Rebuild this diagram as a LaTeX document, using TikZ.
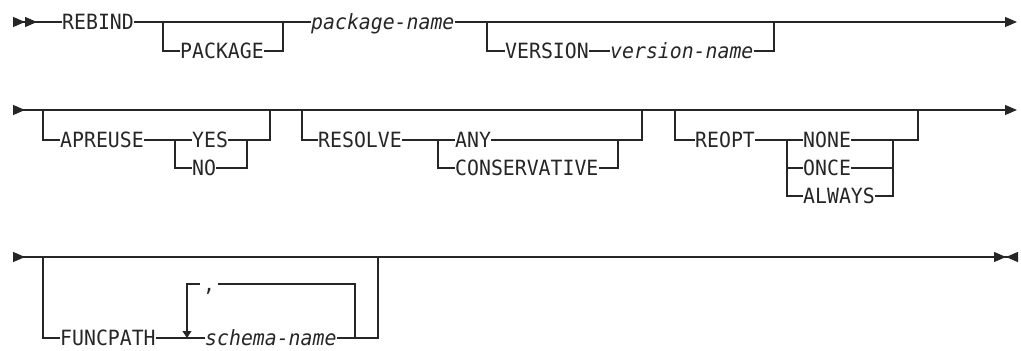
\documentclass[tikz,border=0pt]{standalone}
\usepackage{fontspec}
\setmainfont{DejaVu Sans Mono}[FakeStretch=0.944]
\usetikzlibrary{positioning, arrows.meta, calc}

\tikzset{
    railtip/.tip={Triangle[length=12pt, width=10pt]},
    railback/.tip={Triangle[length=12pt, width=10pt, reversed]},
}

\begin{document}
\begin{tikzpicture}[
    x=1pt, y=-1pt,
    kw/.style={anchor=west, inner sep=0pt, text height=15.3pt, text depth=0pt, font=\fontsize{21}{22}\selectfont, text=black!85},
    var/.style={kw, font=\fontsize{21}{22}\selectfont\itshape},
    rail/.style={line width=1.2pt, draw=black!85},
]
\useasboundingbox (0,0) rectangle (1021,351);

% Row 1: REBIND PACKAGE package-name VERSION
\coordinate (s1) at (13,22);
\node[kw] (rebind) at (62,22) {REBIND};
\coordinate (b1) at (163,22);
\coordinate (j1) at (283,22);
\node[kw] (package) at (180,51) {PACKAGE};
\node[var] (pkgname) at (311,22) {package-name};
\coordinate (b2) at (487,22);
\coordinate (j2) at (774,22);
\node[kw] (version) at (505,51) {VERSION};
\node[var] (vername) at (610,51) {version-name};
\coordinate (e1) at (1017,22);

\draw[rail, {railback[] railback[]}-] (s1) -- (rebind.west);
\draw[rail] (rebind.east) -- (pkgname.west);
\draw[rail] (b1) |- (package.west);
\draw[rail] (package.east) -| (j1);
\draw[rail, -{railtip[]}] (pkgname.east) -- (e1);
\draw[rail] (b2) |- (version.west);
\draw[rail] (version.east) -- (vername.west);
\draw[rail] (vername.east) -| (j2);

% Row 2: APREUSE, RESOLVE, REOPT
\coordinate (s2) at (13,110);
\coordinate (e2) at (1017,110);
\coordinate (b3) at (43,110);
\coordinate (j3) at (270,110);
\node[kw] (apreuse) at (60,140) {APREUSE};
\coordinate (c3) at (175,140);
\coordinate (k3) at (247,140);
\node[kw] (yes) at (192,140) {YES};
\node[kw] (no) at (192,168) {NO};

\coordinate (b4) at (302,110);
\coordinate (j4) at (642,110);
\node[kw] (resolve) at (318,140) {RESOLVE};
\coordinate (c4) at (438,140);
\coordinate (k4) at (618,140);
\node[kw] (any) at (455,140) {ANY};
\node[kw] (conserv) at (455,168) {CONSERVATIVE};

\coordinate (b5) at (675,110);
\coordinate (j5) at (918,110);
\node[kw] (reopt) at (695,140) {REOPT};
\coordinate (c5) at (787,140);
\coordinate (k5) at (893,140);
\node[kw] (none) at (803,140) {NONE};
\node[kw] (once) at (803,168) {ONCE};
\node[kw] (always) at (803,196) {ALWAYS};

\draw[rail, {railback[]}-{railtip[]}] (s2) -- (e2);
% apreuse
\draw[rail] (b3) |- (apreuse.west);
\draw[rail] (apreuse.east) -- (yes.west);
\draw[rail] (c3) |- (no.west);
\draw[rail] (yes.east) -- (k3) -| (j3);
\draw[rail] (no.east) -| (k3);
% resolve
\draw[rail] (b4) |- (resolve.west);
\draw[rail] (resolve.east) -- (any.west);
\draw[rail] (c4) |- (conserv.west);
\draw[rail] (any.east) -- (k4) -| (j4);
\draw[rail] (conserv.east) -| (k4);
% reopt
\draw[rail] (b5) |- (reopt.west);
\draw[rail] (reopt.east) -- (none.west);
\draw[rail] (c5) |- (always.west);
\draw[rail] (c5 |- once) -- (once.west);
\draw[rail] (none.east) -- (k5) -| (j5);
\draw[rail] (once.east) -- (once -| k5);
\draw[rail] (always.east) -| (k5);

% Row 3: FUNCPATH with repeated schema-name
\coordinate (s3) at (13,257);
\coordinate (e3) at (1018,257);
\coordinate (b6) at (43,257);
\coordinate (k6) at (378,257);
\node[kw] (funcpath) at (60,338) {FUNCPATH};
\node[var] (schema) at (205,338) {schema-name};
\coordinate (l6) at (187,284);
\coordinate (r6) at (355,284);
\node[kw, anchor=center, fill=white, inner xsep=3pt] (comma) at (209,284) {,};

\draw[rail, {railback[]}-{railtip[] railback[]}] (s3) -- (e3);
\draw[rail] (b6) |- (funcpath.west);
\draw[rail] (funcpath.east) -- (schema.west);
\draw[rail] (schema.east) -| (k6);
\draw[rail] (r6 |- schema) -- (r6) -- (comma.east);
\draw[rail, -{Triangle[length=7pt, width=9pt]}] (comma.west) -- (l6) -- (l6 |- schema);

\end{tikzpicture}
\end{document}
